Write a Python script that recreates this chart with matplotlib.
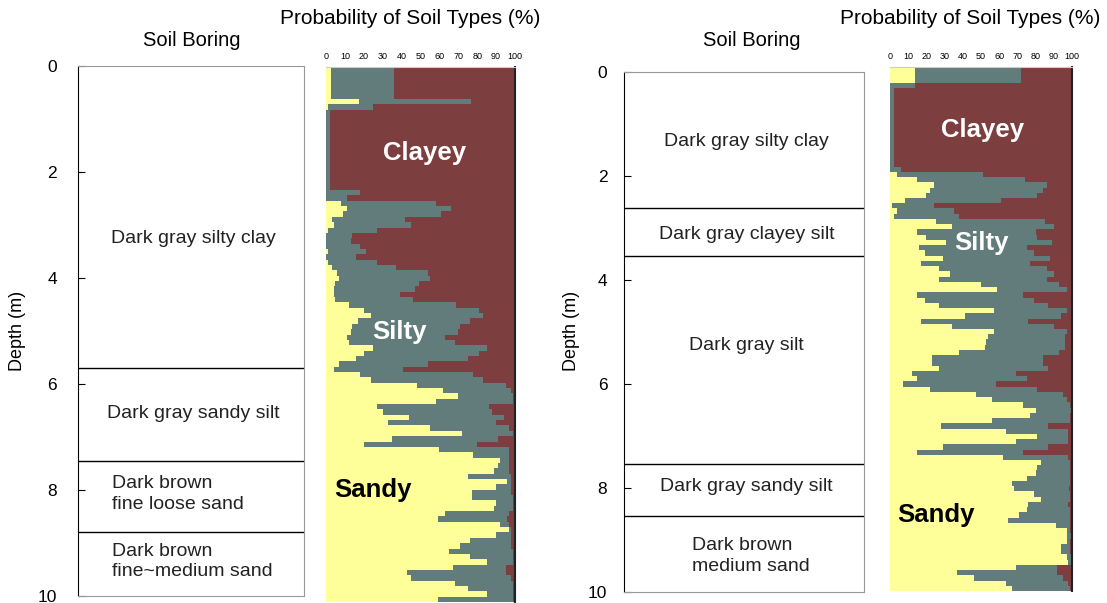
import numpy as np
import matplotlib
matplotlib.use("Agg")
from matplotlib import pyplot as plt

plt.rcParams["font.family"] = ["Liberation Sans", "DejaVu Sans"]

# probability of soil types per 0.1 m depth row (%), clayey = 100 - sandy - silty
left_sandy = [2.5, 2.5, 2.5, 2.5, 2.5, 2.5, 17.5, 1, 0, 0,
              0, 0, 0, 0, 0, 0, 0, 0, 0, 0,
              0, 0, 0, 0, 0, 8, 11, 9, 3, 4,
              1, 0, 0, 0, 1, 0, 1, 3, 6, 7,
              5, 4, 4, 5, 12, 20, 24, 17, 14, 13,
              11, 12, 25, 20, 16, 7, 4, 18, 24, 48,
              62, 70, 58, 27, 30, 44, 33, 55, 72, 35,
              20, 60, 78, 92, 91, 89, 75, 96, 90, 77,
              77, 90, 89, 63, 59, 92, 97, 90, 76, 71,
              65, 76, 85, 67, 43, 45, 68, 75, 85, 59]
left_silty = [33.5, 33.5, 33.5, 33.5, 33.5, 33.5, 59, 24, 2, 2,
              2, 2, 2, 2, 2, 2, 2, 2, 2, 2,
              2, 2, 2, 18, 11, 50, 55, 52, 39, 41,
              26, 14, 13, 18, 20, 16, 26, 34, 48, 48,
              44, 43, 35, 41, 57, 61, 59, 59, 57, 57,
              52, 56, 60, 61, 59, 47, 37, 60, 59, 47,
              36, 29, 41, 59, 58, 50, 57, 42, 27, 56,
              60, 37, 19, 5, 6, 8, 23, 2, 8, 21,
              22, 9, 10, 34, 37, 5, 1, 8, 22, 27,
              34, 23, 14, 28, 52, 53, 31, 24, 14, 40]
right_sandy = [14, 14, 14, 0, 0, 0, 0, 0, 0, 0,
               0, 0, 0, 0, 0, 0, 0, 0, 0, 0,
               4, 15, 24, 22, 20, 8, 1, 4, 2, 25,
               34, 15, 20, 31, 16, 19, 29, 17, 27, 33,
               27, 50, 59, 15, 19, 27, 57, 41, 17, 34,
               57, 54, 53, 52, 38, 23, 23, 27, 12, 15,
               7, 22, 47, 56, 73, 80, 77, 56, 28, 64,
               81, 69, 29, 15, 62, 83, 81, 80, 75, 67,
               68, 79, 83, 76, 75, 71, 65, 91, 97, 97,
               97, 94, 94, 97, 98, 69, 37, 46, 64, 67]
right_silty = [58, 58, 58, 14, 2, 2, 2, 2, 2, 2,
               2, 2, 2, 2, 2, 2, 2, 2, 2, 6,
               47, 59, 62, 62, 61, 53, 23, 31, 36, 60,
               56, 65, 61, 58, 59, 60, 59, 60, 59, 57,
               59, 43, 38, 58, 60, 60, 40, 53, 59, 56,
               40, 42, 43, 44, 55, 61, 61, 60, 57, 60,
               51, 59, 48, 41, 26, 19.5, 22, 43, 59, 34,
               17, 29, 58, 58, 36, 16, 18, 19, 24, 32,
               30.5, 20, 16, 22, 24, 28, 34, 8, 2, 2.5,
               2, 5, 5, 2.5, 1.5, 23, 55, 49, 34, 32]
row_step = 0.1

# soil boring logs
left_bounds = [5.7, 7.45, 8.8]
left_layers = ["Dark gray silty clay", "Dark gray sandy silt",
               "Dark brown\nfine loose sand", "Dark brown\nfine~medium sand"]
left_label_depth = [3.25, 6.55, 8.07, 9.35]
right_bounds = [2.62, 3.54, 7.54, 8.54]
right_layers = ["Dark gray silty clay", "Dark gray clayey silt", "Dark gray silt",
                "Dark gray sandy silt", "Dark brown\nmedium sand"]
right_label_depth = [1.33, 3.13, 5.25, 7.98, 9.3]

depth_ticks = [0, 2, 4, 6, 8, 10]
prob_ticks = [0, 10, 20, 30, 40, 50, 60, 70, 80, 90, 100]

col_sand = "#ffff99"
col_silt = "#617c7b"
col_clay = "#7d3e3f"

W, H = 1107, 603
fig = plt.figure(figsize=(W / 100, H / 100), dpi=100)


def frac(x0, y0, x1, y1):
    return [x0 / W, 1 - y1 / H, (x1 - x0) / W, (y1 - y0) / H]


def boring(rect, bounds, layers, label_depth, xs, tick_pad):
    ax = fig.add_axes(rect)
    ax.set_ylim(10, 0)
    ax.set_xlim(0, 1)
    ax.set_xticks([])
    ax.set_yticks(depth_ticks)
    ax.tick_params(axis="y", labelsize=12.5, length=5, direction="in",
                   pad=tick_pad)
    for s in ["top", "right", "bottom"]:
        ax.spines[s].set_color("#999999")
    ax.spines["left"].set_color("black")
    for b in bounds:
        ax.axhline(b, color="black", lw=1)
    for text, d, (x, ha) in zip(layers, label_depth, xs):
        ax.text(x, d, text, ha=ha, va="center", fontsize=14, color="#222222",
                linespacing=1.3)
    return ax


def prob(rect, sandy, silty, labels):
    ax = fig.add_axes(rect)
    sandy = np.array(sandy, dtype=float)
    silty = np.array(silty, dtype=float)
    n = len(sandy)
    # row edges, last value repeated for the step fill
    y = np.arange(n + 1) * row_step
    sand_edge = np.append(sandy, sandy[-1])
    silt_edge = np.append(sandy + silty, sandy[-1] + silty[-1])
    # clayey fills the rest up to 100 %, silty and sandy are layered on top
    ax.fill_betweenx(y, 0, 100, step="post", color=col_clay, linewidth=0)
    ax.fill_betweenx(y, 0, silt_edge, step="post", color=col_silt, linewidth=0)
    ax.fill_betweenx(y, 0, sand_edge, step="post", color=col_sand, linewidth=0)
    ax.set_xlim(0, 100)
    ax.set_ylim(10, 0)
    ax.set_yticks([])
    ax.xaxis.tick_top()
    ax.set_xticks(prob_ticks)
    ax.tick_params(axis="x", labelsize=6.5, length=0, pad=4)
    for s in ["left", "bottom"]:
        ax.spines[s].set_visible(False)
    ax.spines["top"].set_color("#cccccc")
    ax.spines["right"].set_color("#222222")
    ax.spines["right"].set_linewidth(1.5)
    for (text, x, d), c in zip(labels, ["white", "white", "black"]):
        ax.text(x, d, text, ha="center", va="center", fontsize=18.5,
                fontweight="bold", color=c)
    return ax


boring(frac(78, 66, 304, 596), left_bounds, left_layers, left_label_depth,
       [(0.51, "center"), (0.51, "center"), (0.15, "left"), (0.15, "left")], 15)
prob(frac(326, 67, 515, 602), left_sandy, left_silty,
     [("Clayey", 52, 1.6), ("Silty", 39, 4.95), ("Sandy", 25, 7.9)])

boring(frac(624, 72, 864, 592), right_bounds, right_layers, right_label_depth,
       [(0.51, "center")] * 4 + [(0.283, "left")], 12)
prob(frac(890, 67, 1072, 591), right_sandy, right_silty,
     [("Clayey", 51, 1.2), ("Silty", 50, 3.35), ("Sandy", 25, 8.55)])

fig.text(17 / W, 1 - 331 / H, "Depth (m)", rotation=90, ha="center",
         va="center", fontsize=13)
fig.text(572 / W, 1 - 331 / H, "Depth (m)", rotation=90, ha="center",
         va="center", fontsize=13)
fig.text(192 / W, 1 - 40 / H, "Soil Boring", ha="center", va="center", fontsize=14.5)
fig.text(752 / W, 1 - 40 / H, "Soil Boring", ha="center", va="center", fontsize=14.5)
fig.text(410 / W, 1 - 18 / H, "Probability of Soil Types (%)", ha="center",
         va="center", fontsize=15)
fig.text(970 / W, 1 - 18 / H, "Probability of Soil Types (%)", ha="center",
         va="center", fontsize=15)

fig.savefig("out.png", dpi=100)
